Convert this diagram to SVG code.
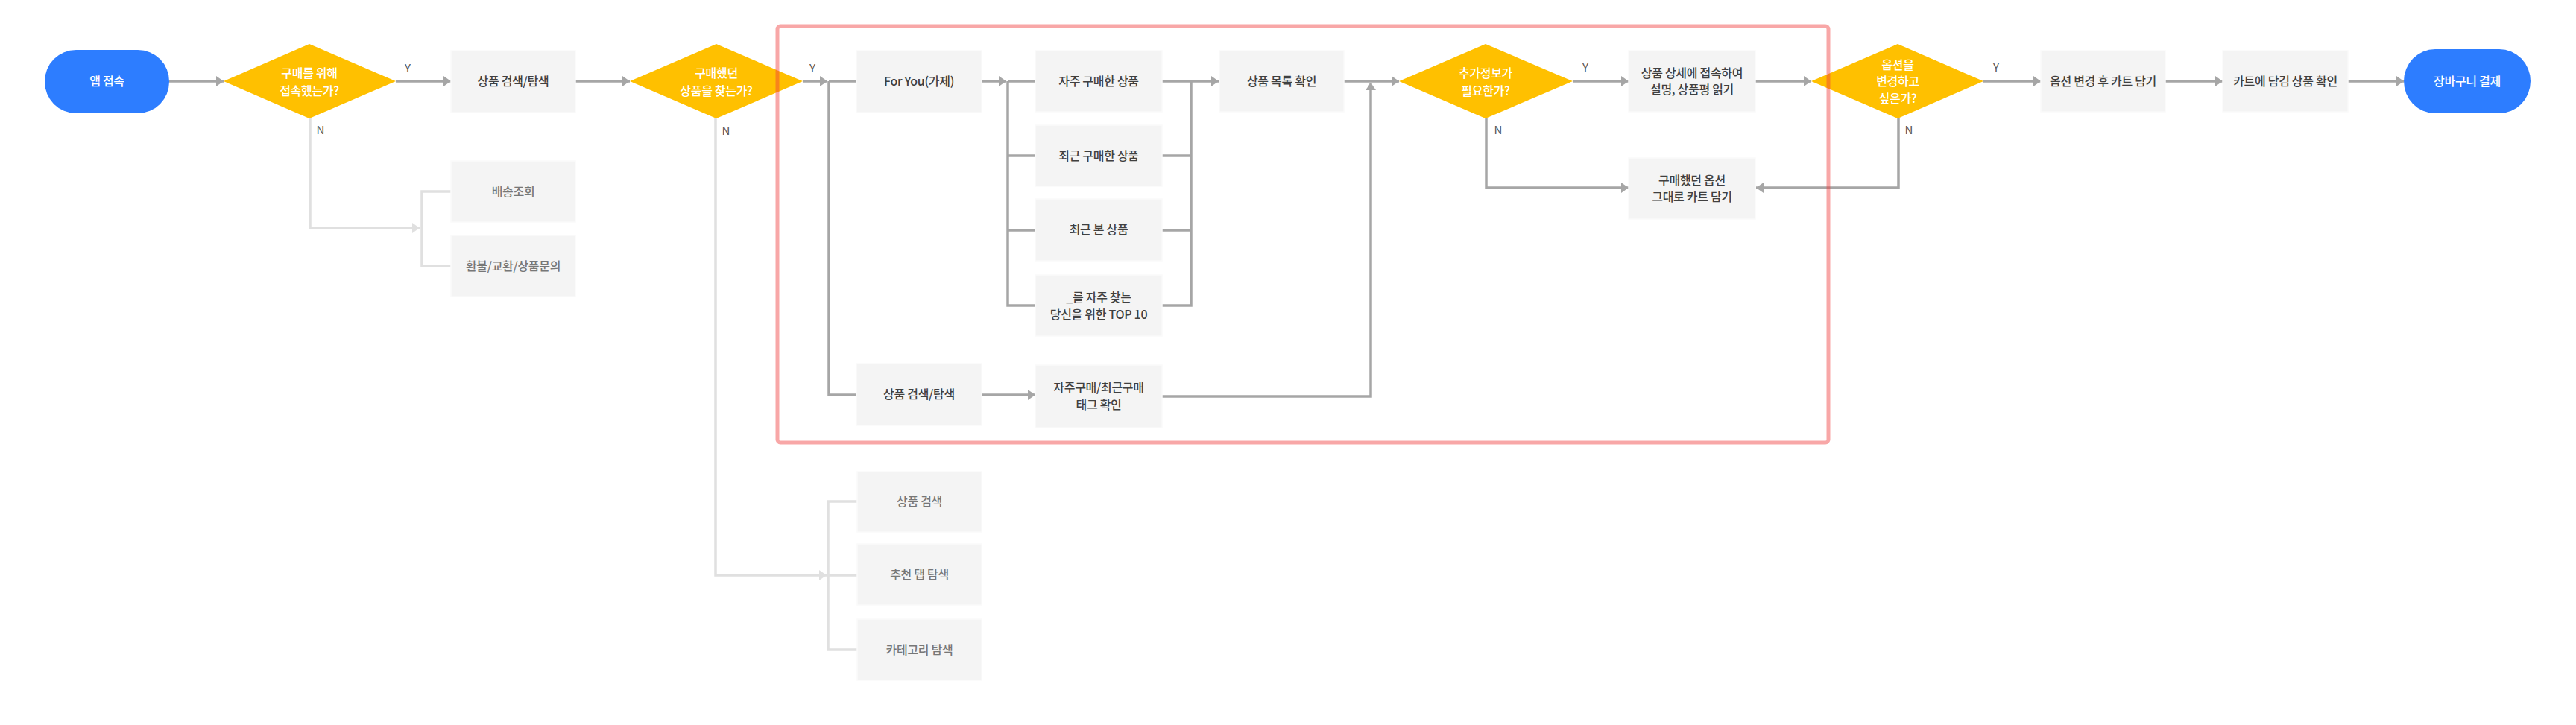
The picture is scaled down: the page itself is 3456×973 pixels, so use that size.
<svg xmlns="http://www.w3.org/2000/svg" width="3456" height="973" viewBox="0 0 3456 973">
<defs>
<style>
.box{fill:#f4f4f4;stroke:#fafafa;stroke-width:1.5}
.t{font-family:"Noto Sans CJK KR","Noto Sans",sans-serif;font-size:16px;fill:#404040;text-anchor:middle;font-weight:500;letter-spacing:-0.3px}
.tf{font-family:"Noto Sans CJK KR","Noto Sans",sans-serif;font-size:16px;fill:#777;text-anchor:middle;font-weight:500;letter-spacing:-0.3px}
.tw{font-family:"Noto Sans CJK KR","Noto Sans",sans-serif;font-size:16px;fill:#fff;text-anchor:middle;font-weight:500;letter-spacing:-0.3px}
.lbl{font-family:"Noto Sans CJK KR","Noto Sans",sans-serif;font-size:15px;fill:#555;text-anchor:middle}
.dia{fill:#ffc000}
.pill{fill:#2d7dff}
.c{fill:none;stroke:#a6a6a6;stroke-width:3.5}
.cf{fill:none;stroke:#e0e0e0;stroke-width:3.5}
.a{marker-end:url(#ah)}
.af{marker-end:url(#ahf)}
</style>
<marker id="ah" markerUnits="userSpaceOnUse" viewBox="0 0 10 14" refX="10" refY="7" markerWidth="10" markerHeight="14" orient="auto"><path d="M0,0 L10,7 L0,14 z" fill="#a6a6a6"/></marker>
<marker id="ahf" markerUnits="userSpaceOnUse" viewBox="0 0 10 14" refX="10" refY="7" markerWidth="10" markerHeight="14" orient="auto"><path d="M0,0 L10,7 L0,14 z" fill="#e0e0e0"/></marker>
</defs>
<rect width="3456" height="973" fill="#fff"/>

<g id="connectors">
<path class="c a" d="M227,109 H300"/>
<path class="c a" d="M531,109 H605"/>
<path class="c a" d="M772,109 H845"/>
<path class="c a" d="M1077,109 H1110"/>
<path class="c" d="M1112,109 H1149 M1112,109 V530 H1149"/>
<path class="c a" d="M1317,109 H1350"/>
<path class="c" d="M1352,109 H1389 M1352,109 V410 H1389 M1352,209 H1389 M1352,309 H1389"/>
<path class="c" d="M1559,109 H1598 V410 H1559 M1559,209 H1598 M1559,309 H1598"/>
<path class="c a" d="M1598,109 H1635"/>
<path class="c a" d="M1317,530 H1389"/>
<path class="c a" d="M1559,532 H1839 V111"/>
<path class="c a" d="M1803,109 H1877"/>
<path class="c a" d="M2110,109 H2185"/>
<path class="c a" d="M1994,159 V252 H2185"/>
<path class="c a" d="M2355,109 H2430"/>
<path class="c a" d="M2547,159 V252 H2356"/>
<path class="c a" d="M2661,109 H2738"/>
<path class="c a" d="M2905,109 H2982"/>
<path class="c a" d="M3150,109 H3225"/>
<path class="cf af" d="M416,159 V306 H563"/>
<path class="cf" d="M605,257 H566 V357 H605"/>
<path class="cf af" d="M960,159 V772 H1109"/>
<path class="cf" d="M1150,673 H1111 V872 H1150 M1111,772 H1150"/>
<text class="lbl" x="547" y="97">Y</text>
<text class="lbl" x="430" y="180">N</text>
<text class="lbl" x="1090" y="97">Y</text>
<text class="lbl" x="974" y="181">N</text>
<text class="lbl" x="2127" y="96">Y</text>
<text class="lbl" x="2010" y="180">N</text>
<text class="lbl" x="2678" y="96">Y</text>
<text class="lbl" x="2561" y="180">N</text>
</g>

<g id="n-start"><rect class="pill" x="60" y="67" width="167" height="85" rx="42" ry="42"/><text class="tw" x="143.5" y="115">앱 접속</text></g>
<g id="n-d1"><polygon class="dia" points="300,109 415,59 531,109 415,159"/><text class="tw" x="415" y="104">구매를 위해</text><text class="tw" x="415" y="128">접속했는가?</text></g>
<g id="n-search1"><rect class="box" x="605" y="68" width="167" height="83"/><text class="t" x="688.5" y="115">상품 검색/탐색</text></g>
<g id="n-delivery"><rect class="box" x="605" y="216" width="167" height="82"/><text class="tf" x="688.5" y="263">배송조회</text></g>
<g id="n-refund"><rect class="box" x="605" y="316" width="167" height="82"/><text class="tf" x="688.5" y="363">환불/교환/상품문의</text></g>
<g id="n-d2"><polygon class="dia" points="845,109 961,59 1077,109 961,159"/><text class="tw" x="961" y="104">구매했던</text><text class="tw" x="961" y="128">상품을 찾는가?</text></g>
<g id="n-foryou"><rect class="box" x="1149" y="68" width="168" height="83"/><text class="t" x="1233" y="115">For You(가제)</text></g>
<g id="n-search2"><rect class="box" x="1149" y="488" width="168" height="83"/><text class="t" x="1233" y="535">상품 검색/탐색</text></g>
<g id="n-freq"><rect class="box" x="1389" y="68" width="170" height="82"/><text class="t" x="1474" y="115">자주 구매한 상품</text></g>
<g id="n-recentbuy"><rect class="box" x="1389" y="168" width="170" height="82"/><text class="t" x="1474" y="215">최근 구매한 상품</text></g>
<g id="n-recentview"><rect class="box" x="1389" y="267" width="170" height="83"/><text class="t" x="1474" y="314">최근 본 상품</text></g>
<g id="n-top10"><rect class="box" x="1389" y="369" width="170" height="82"/><text class="t" x="1474" y="405">_를 자주 찾는</text><text class="t" x="1474" y="428">당신을 위한 TOP 10</text></g>
<g id="n-tag"><rect class="box" x="1389" y="490" width="170" height="84"/><text class="t" x="1474" y="526">자주구매/최근구매</text><text class="t" x="1474" y="549">태그 확인</text></g>
<g id="n-list"><rect class="box" x="1636" y="68" width="167" height="82"/><text class="t" x="1719.5" y="115">상품 목록 확인</text></g>
<g id="n-psearch"><rect class="box" x="1150" y="633" width="167" height="81"/><text class="tf" x="1233.5" y="679">상품 검색</text></g>
<g id="n-rectab"><rect class="box" x="1150" y="730" width="167" height="82"/><text class="tf" x="1233.5" y="777">추천 탭 탐색</text></g>
<g id="n-category"><rect class="box" x="1150" y="831" width="167" height="82"/><text class="tf" x="1233.5" y="878">카테고리 탐색</text></g>
<g id="n-d3"><polygon class="dia" points="1877,109 1993,59 2110,109 1993,159"/><text class="tw" x="1993" y="104">추가정보가</text><text class="tw" x="1993" y="128">필요한가?</text></g>
<g id="n-detail"><rect class="box" x="2185" y="68" width="170" height="82"/><text class="t" x="2270" y="104">상품 상세에 접속하여</text><text class="t" x="2270" y="126">설명, 상품평 읽기</text></g>
<g id="n-sameopt"><rect class="box" x="2185" y="212" width="170" height="82"/><text class="t" x="2270" y="248">구매했던 옵션</text><text class="t" x="2270" y="270">그대로 카트 담기</text></g>
<g id="n-d4"><polygon class="dia" points="2430,109 2546,59 2661,109 2546,159"/><text class="tw" x="2546" y="93">옵션을</text><text class="tw" x="2546" y="115">변경하고</text><text class="tw" x="2546" y="138">싶은가?</text></g>
<g id="n-changeopt"><rect class="box" x="2738" y="68" width="167" height="82"/><text class="t" x="2821.5" y="115">옵션 변경 후 카트 담기</text></g>
<g id="n-cartcheck"><rect class="box" x="2982" y="68" width="168" height="82"/><text class="t" x="3066" y="115">카트에 담김 상품 확인</text></g>
<g id="n-end"><rect class="pill" x="3225" y="66" width="170" height="86" rx="42" ry="43"/><text class="tw" x="3310" y="115">장바구니 결제</text></g>

<g id="highlight"><rect x="1043" y="35" width="1410" height="559" rx="4" fill="none" stroke="#f03c3c" stroke-opacity="0.45" stroke-width="5"/></g>
</svg>
